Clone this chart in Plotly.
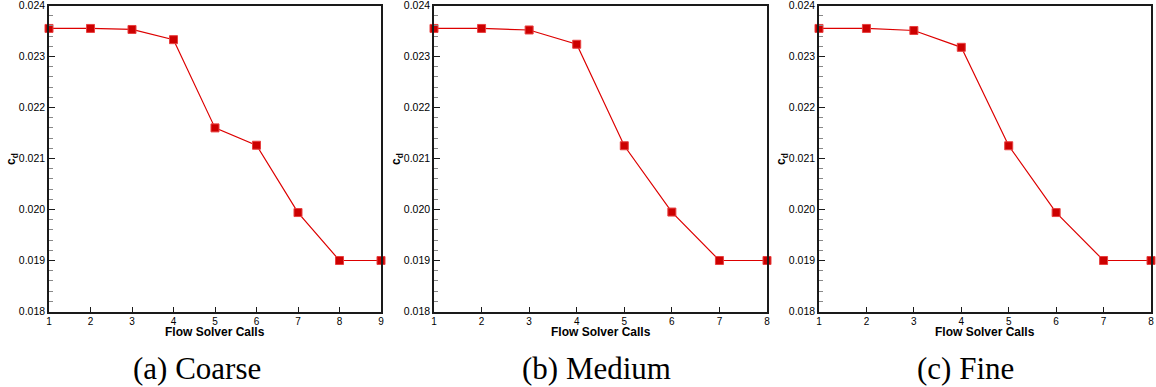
import plotly.graph_objects as go

# Drag coefficient history per mesh level
calls_coarse = [1, 2, 3, 4, 5, 6, 7, 8, 9]
cd_coarse = [0.02355, 0.02355, 0.02353, 0.02333, 0.02160, 0.02126, 0.01994, 0.01900, 0.01900]

calls_medium = [1, 2, 3, 4, 5, 6, 7, 8]
cd_medium = [0.02355, 0.02355, 0.02352, 0.02324, 0.02125, 0.01995, 0.01900, 0.01900]

calls_fine = [1, 2, 3, 4, 5, 6, 7, 8]
cd_fine = [0.02355, 0.02355, 0.02351, 0.02318, 0.02125, 0.01994, 0.01900, 0.01900]

captions = ["(a) Coarse", "(b) Medium", "(c) Fine"]
y_ticks = [0.018, 0.019, 0.020, 0.021, 0.022, 0.023, 0.024]
y_labels = ["0.018", "0.019", "0.020", "0.021", "0.022", "0.023", "0.024"]

W, H = 1156, 387
panels = [
    (calls_coarse, cd_coarse, 49, 381, 197),
    (calls_medium, cd_medium, 434, 767, 596),
    (calls_fine, cd_fine, 819, 1151, 965),
]
top_px, bot_px = 5.5, 311.5

fig = go.Figure()
sans = "Liberation Sans, Arial, sans-serif"
tick_font = dict(family=sans, size=10.5, color="black")
xtick_font = dict(family=sans, size=10, color="black")

for i, (xs, ys, x0, x1, cap_x) in enumerate(panels):
    n = "" if i == 0 else str(i + 1)
    fig.add_trace(go.Scatter(
        x=xs, y=ys, mode="lines+markers",
        line=dict(color="#dd0000", width=1.2),
        marker=dict(symbol="square", size=8, color="#cc0000",
                    line=dict(color="#e84040", width=1)),
        cliponaxis=False, showlegend=False,
        xaxis="x" + n, yaxis="y" + n,
    ))
    fig.layout["xaxis" + n] = dict(
        domain=[x0 / W, x1 / W], anchor="y" + n,
        range=[1, max(xs)], tickmode="linear", tick0=1, dtick=1,
        showline=True, mirror=True, linecolor="#1a1a1a", linewidth=1.5,
        ticks="inside", ticklen=5, tickwidth=1.2, tickcolor="#1a1a1a",
        showgrid=False, zeroline=False, tickfont=xtick_font, ticklabelstandoff=0,
        ticklabeloverflow="allow", automargin=False,
    )
    fig.layout["yaxis" + n] = dict(
        domain=[1 - bot_px / H, 1 - top_px / H], anchor="x" + n,
        range=[0.018, 0.024], tickvals=y_ticks, ticktext=y_labels,
        showline=True, mirror=True, linecolor="#1a1a1a", linewidth=1.5,
        ticks="inside", ticklen=6, tickwidth=1.2, tickcolor="#1a1a1a",
        minor=dict(dtick=0.0002, ticks="inside", ticklen=4, tickcolor="#888888", tickwidth=1),
        showgrid=False, zeroline=False, tickfont=tick_font,
        ticklabeloverflow="allow", automargin=False,
    )
    # x-axis title
    fig.add_annotation(
        x=(x0 + x1) / 2 / W, y=1 - 332 / H, xref="paper", yref="paper",
        xanchor="center", yanchor="middle",
        text="<b>Flow Solver Calls</b>", showarrow=False,
        font=dict(family=sans, size=12, color="black"),
    )
    # y-axis title
    fig.add_annotation(
        x=(x0 - 37) / W, y=1 - 159 / H, xref="paper", yref="paper",
        xanchor="center", yanchor="middle",
        text="<b>c<sub>d</sub></b>", textangle=-90, showarrow=False,
        font=dict(family=sans, size=12, color="black"),
    )
    # subfigure caption
    fig.add_annotation(
        x=cap_x / W, y=1 - 368 / H, xref="paper", yref="paper",
        xanchor="center", yanchor="middle",
        text=captions[i], showarrow=False,
        font=dict(family="Liberation Serif, serif", size=31, color="black"),
    )

fig.update_layout(
    width=W, height=H, margin=dict(l=0, r=0, t=0, b=0),
    paper_bgcolor="white", plot_bgcolor="white",
)

fig.write_html("out.html")
